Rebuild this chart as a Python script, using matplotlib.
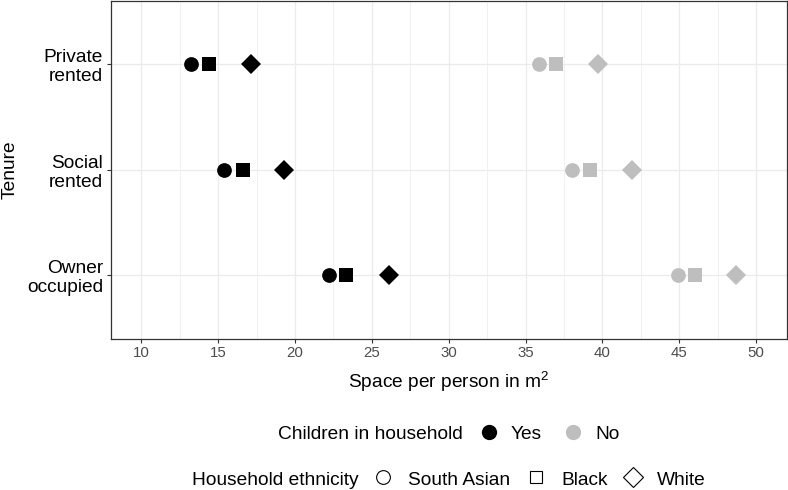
import matplotlib
matplotlib.use("Agg")
import matplotlib.pyplot as plt
from matplotlib.lines import Line2D

plt.rcParams['font.family'] = ['Liberation Sans', 'DejaVu Sans']
plt.rcParams['mathtext.fontset'] = 'custom'
plt.rcParams['mathtext.rm'] = 'Liberation Sans'
plt.rcParams['mathtext.it'] = 'Liberation Sans:italic'

# ---- data ----
tenure = ["Private\nrented", "Social\nrented", "Owner\noccupied"]
ethnicity = ["South Asian", "Black", "White"]
children = ["Yes", "No"]
yes_south_asian = [13.2, 15.4, 22.2]
yes_black = [14.4, 16.6, 23.3]
yes_white = [17.1, 19.3, 26.1]
no_south_asian = [35.9, 38.0, 44.9]
no_black = [37.0, 39.2, 46.0]
no_white = [39.7, 41.9, 48.7]
x_ticks = [10, 15, 20, 25, 30, 35, 40, 45, 50]

# ---- style ----
W, H = 788, 490
FS = 13.75
colors = {"Yes": "#000000", "No": "#BEBEBE"}
markers = {"South Asian": ("o", 10.6), "Black": ("s", 9.6), "White": ("D", 10.3)}
series = {
    ("Yes", "South Asian"): yes_south_asian,
    ("Yes", "Black"): yes_black,
    ("Yes", "White"): yes_white,
    ("No", "South Asian"): no_south_asian,
    ("No", "Black"): no_black,
    ("No", "White"): no_white,
}

fig = plt.figure(figsize=(W / 100, H / 100), dpi=100)
ax = fig.add_axes([110.7 / W, 1 - 338.5 / H, (786.7 - 110.7) / W, (338.5 - 1) / H])

ypos = [3, 2, 1]
for (ch, eth), vals in series.items():
    m, ms = markers[eth]
    ax.plot(vals, ypos, linestyle="none", marker=m, markersize=ms,
            color=colors[ch], markeredgewidth=0, zorder=3)

ax.set_xlim(8, 52)
ax.set_ylim(0.4, 3.6)
ax.set_xticks(x_ticks)
ax.set_xticks([12.5, 17.5, 22.5, 27.5, 32.5, 37.5, 42.5, 47.5], minor=True)
ax.set_yticks(ypos)
ax.set_yticklabels(tenure, fontsize=FS, color="black", linespacing=1.15,
                   ha="right", multialignment="right")
ax.tick_params(axis="x", which="major", labelsize=10.8, labelcolor="#4D4D4D",
               length=3, width=0.8, color="#333333", pad=2.5)
ax.tick_params(axis="x", which="minor", length=0)
ax.tick_params(axis="y", length=3, width=0.8, color="#333333", pad=2.5)
ax.grid(True, which="major", color="#EBEBEB", linewidth=0.9, zorder=0)
ax.grid(True, which="minor", axis="x", color="#EBEBEB", linewidth=0.5, zorder=0)
ax.set_axisbelow(True)
for sp in ax.spines.values():
    sp.set_color("#333333")
    sp.set_linewidth(0.9)


def fx(px):
    return px / W


def fy(py):
    return 1 - py / H


# axis titles
fig.text(fx(448.7), fy(388.3), "Space per person in m$^{\\mathrm{2}}$", fontsize=FS,
         ha="center", va="baseline")
fig.text(fx(19), fy(169.5), "Tenure", fontsize=FS, rotation=90, ha="right", va="center")

# ---- legends (ggplot-style horizontal) ----
# Row 1: children
fig.text(fx(278.3), fy(439), "Children in household", fontsize=FS, va="baseline", ha="left")
leg1 = [("Yes", 489, 510.7), ("No", 572.5, 595)]
for lab, cx, tx in leg1:
    fig.add_artist(Line2D([fx(cx)], [fy(431.7)], transform=fig.transFigure, marker="o",
                          markersize=11.0, color=colors[lab], markeredgewidth=0, linestyle="none"))
    fig.text(fx(tx), fy(439), lab, fontsize=FS, va="baseline", ha="left")

# Row 2: ethnicity
fig.text(fx(191.7), fy(485), "Household ethnicity", fontsize=FS, va="baseline", ha="left")
leg2 = [("South Asian", 383.3, 408.3, 9.9), ("Black", 536, 561, 8.9), ("White", 632.5, 656.7, 10.3)]
for lab, cx, tx, ms in leg2:
    m = markers[lab][0]
    fig.add_artist(Line2D([fx(cx)], [fy(477)], transform=fig.transFigure, marker=m,
                          markersize=ms, markerfacecolor="none", markeredgecolor="black",
                          markeredgewidth=0.8, linestyle="none"))
    fig.text(fx(tx), fy(485), lab, fontsize=FS, va="baseline", ha="left")

fig.savefig("out.png", dpi=100)
